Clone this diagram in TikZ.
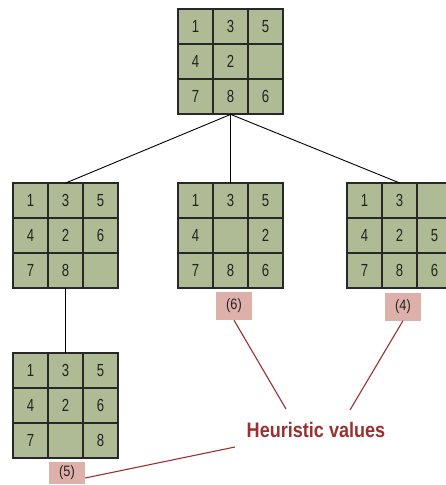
\documentclass[tikz,border=0pt]{standalone}
\usepackage{fontspec}
\setmainfont{Liberation Sans}
\usepackage{graphicx}
\definecolor{cellgreen}{RGB}{174,187,149}
\definecolor{gridline}{RGB}{40,40,40}
\definecolor{labelpink}{RGB}{221,176,170}
\definecolor{hred}{RGB}{155,48,48}
\definecolor{digit}{RGB}{35,35,35}
\tikzset{
  cellbox/.style={draw=gridline, line width=1.8pt, fill=cellgreen, minimum size=35pt, inner sep=0pt, text=digit, font=\fontsize{17.5}{17.5}\selectfont},
  gridbox/.style={minimum size=105pt, inner sep=0pt, anchor=north west},
  hlabel/.style={fill=labelpink, minimum width=36pt, minimum height=28pt, inner sep=0pt, text=digit, font=\fontsize{15}{15}\selectfont},
  hline/.style={draw=hred, line width=1.1pt},
  tline/.style={draw=black, line width=0.9pt}
}
\newcommand\puzzle[4]{%
  \node[gridbox] (#1) at (#2,#3) {};
  \foreach \v [count=\i from 0] in {#4} {
    \pgfmathtruncatemacro\cc{mod(\i,3)}
    \pgfmathtruncatemacro\rr{int(\i/3)}
    \node[cellbox] (#1-\i) at (#2+17.5+35*\cc, #3+17.5+35*\rr) {\scalebox{0.75}[1]{\v}};
  }
}
\begin{document}
\begin{tikzpicture}[x=1pt,y=-1pt]
\useasboundingbox (0,0) rectangle (446,485);
\clip (0,0) rectangle (446,485);
\puzzle{top}{178}{9}{1,3,5,4,2,{},7,8,6}
\puzzle{L}{13}{183}{1,3,5,4,2,6,7,8,{}}
\puzzle{M}{178}{183}{1,3,5,4,{},2,7,8,6}
\puzzle{R}{347}{183}{1,3,{},4,2,5,7,8,6}
\puzzle{LL}{13}{353}{1,3,5,4,2,6,7,{},8}
\draw[tline] (top.south) -- (L.north);
\draw[tline] (top.south) -- (M.north);
\draw[tline] (top.south) -- (R.north);
\draw[tline] (L.south) -- (LL.north);
\node[hlabel] (h6) at (234,306) {\scalebox{0.85}[1]{(6)}};
\node[hlabel] (h4) at (403,306.5) {\scalebox{0.85}[1]{(4)}};
\node[hlabel, minimum height=22pt] (h5) at (67,473) {\scalebox{0.85}[1]{(5)}};
\node[text=hred, font=\fontsize{21}{21}\selectfont\bfseries, inner sep=0pt] (hv) at (316,430) {\scalebox{0.86}[1]{Heuristic values}};
\coordinate (a6) at (286,409);
\coordinate (a4) at (350,410);
\coordinate (a5) at (235,447);
\draw[hline] (h6.south) -- (a6);
\draw[hline] (h4.south) -- (a4);
\draw[hline] (h5.east) ++(0,5) -- (a5);
\end{tikzpicture}
\end{document}
